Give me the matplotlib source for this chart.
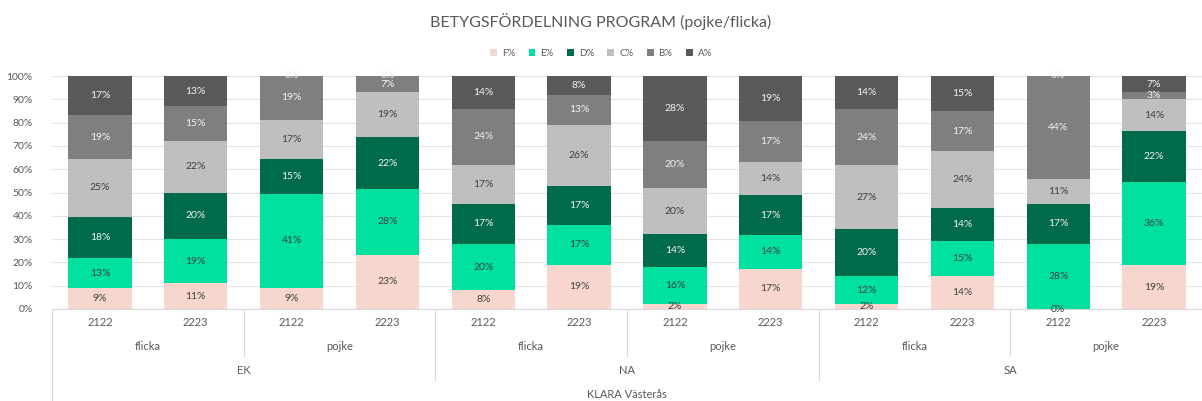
import matplotlib as mpl
import matplotlib.pyplot as plt
import numpy as np
from matplotlib.transforms import blended_transform_factory

mpl.rcParams.update(
    {
        "font.family": ["Lato", "DejaVu Sans"],
        "font.size": 7,
        "figure.facecolor": "white",
    }
)

# data (percent, as labelled in the chart)
years = ["2122", "2223"] * 6
genders = ["flicka", "pojke"] * 3
programs = ["EK", "NA", "SA"]
school = "KLARA Västerås"

grades = ["F%", "E%", "D%", "C%", "B%", "A%"]
F = [9, 11, 9, 23, 8, 19, 2, 17, 2, 14, 0, 19]
E = [13, 19, 41, 28, 20, 17, 16, 14, 12, 15, 28, 36]
D = [18, 20, 15, 22, 17, 17, 14, 17, 20, 14, 17, 22]
C = [25, 22, 17, 19, 17, 26, 20, 14, 27, 24, 11, 14]
B = [19, 15, 19, 7, 24, 13, 20, 17, 24, 17, 44, 3]
A = [17, 13, 0, 0, 14, 8, 28, 19, 14, 15, 0, 7]

COL = {
    "F%": "#F6D6CD",
    "E%": "#00E09E",
    "D%": "#006B4B",
    "C%": "#BFBFBF",
    "B%": "#7F7F7F",
    "A%": "#595959",
}
LABEL_COL = {
    "F%": "#404040",
    "E%": "#404040",
    "D%": "#F2F2F2",
    "C%": "#404040",
    "B%": "#F2F2F2",
    "A%": "#F2F2F2",
}
INK = "#595959"
GRID = "#E4E4E4"

series = [F, E, D, C, B, A]
vals = np.array(series, dtype=float)
shares = vals / vals.sum(axis=0) * 100  # 100% stacked like Excel

fig = plt.figure(figsize=(12.02, 4.01), dpi=100)
ax = fig.add_axes([52 / 1202, 1 - 309 / 401, 1 - 52 / 1202, 233 / 401])

x = np.arange(len(years))
bottom = np.zeros(len(years))
for name, raw, h in zip(grades, series, shares):
    ax.bar(x, h, bottom=bottom, width=0.66, color=COL[name], label=name, zorder=2)
    for xi, b, hi, r in zip(x, bottom, h, raw):
        ax.text(xi, b + hi / 2, f"{r}%", ha="center", va="center",
                fontsize=7.5, color=LABEL_COL[name], zorder=3)
    bottom += h

ax.set_xlim(-0.5, len(years) - 0.5)
ax.set_ylim(0, 100)
ax.set_yticks(np.arange(0, 101, 10))
ax.set_yticklabels([f"{v}%" for v in range(0, 101, 10)])
ax.tick_params(axis="y", length=0, pad=14, labelsize=7.5, labelcolor=INK)
ax.set_xticks([])
ax.grid(axis="y", color=GRID, linewidth=0.8, zorder=0)
for side in ["top", "right", "left"]:
    ax.spines[side].set_visible(False)
ax.spines["bottom"].set_color("#D9D9D9")

# multi-level category axis
tr = blended_transform_factory(ax.transData, fig.transFigure)
def fy(py):
    return 1 - py / 401

for xi, yr in zip(x, years):
    ax.text(xi, fy(322), yr, transform=tr, ha="center", va="center", fontsize=8, color=INK)
for i, g in enumerate(genders):
    ax.text(2 * i + 0.5, fy(347), g, transform=tr, ha="center", va="center", fontsize=8, color=INK)
for i, p in enumerate(programs):
    ax.text(4 * i + 1.5, fy(371), p, transform=tr, ha="center", va="center", fontsize=8, color=INK)
ax.text(5.5, fy(394), school, transform=tr, ha="center", va="center", fontsize=8, color=INK)

line_kw = dict(transform=tr, color="#D9D9D9", linewidth=0.8, clip_on=False)
ax.plot([-0.5, -0.5], [fy(309), fy(401)], **line_kw)
for i in range(1, 6):
    end = 380 if i % 2 == 0 else 356
    ax.plot([2 * i - 0.5, 2 * i - 0.5], [fy(309), fy(end)], **line_kw)

fig.text(0.5, 1 - 22 / 401, "BETYGSFÖRDELNING PROGRAM (pojke/flicka)",
         ha="center", va="center", fontsize=11.5, color=INK)

handles, labels = ax.get_legend_handles_labels()
fig.legend(handles, labels, loc="center", bbox_to_anchor=(0.5, 1 - 53 / 401),
           ncol=6, frameon=False, fontsize=7, handlelength=0.7, handleheight=0.7,
           handletextpad=0.5, columnspacing=1.4, labelcolor=INK)

fig.savefig("out.png", dpi=100)
